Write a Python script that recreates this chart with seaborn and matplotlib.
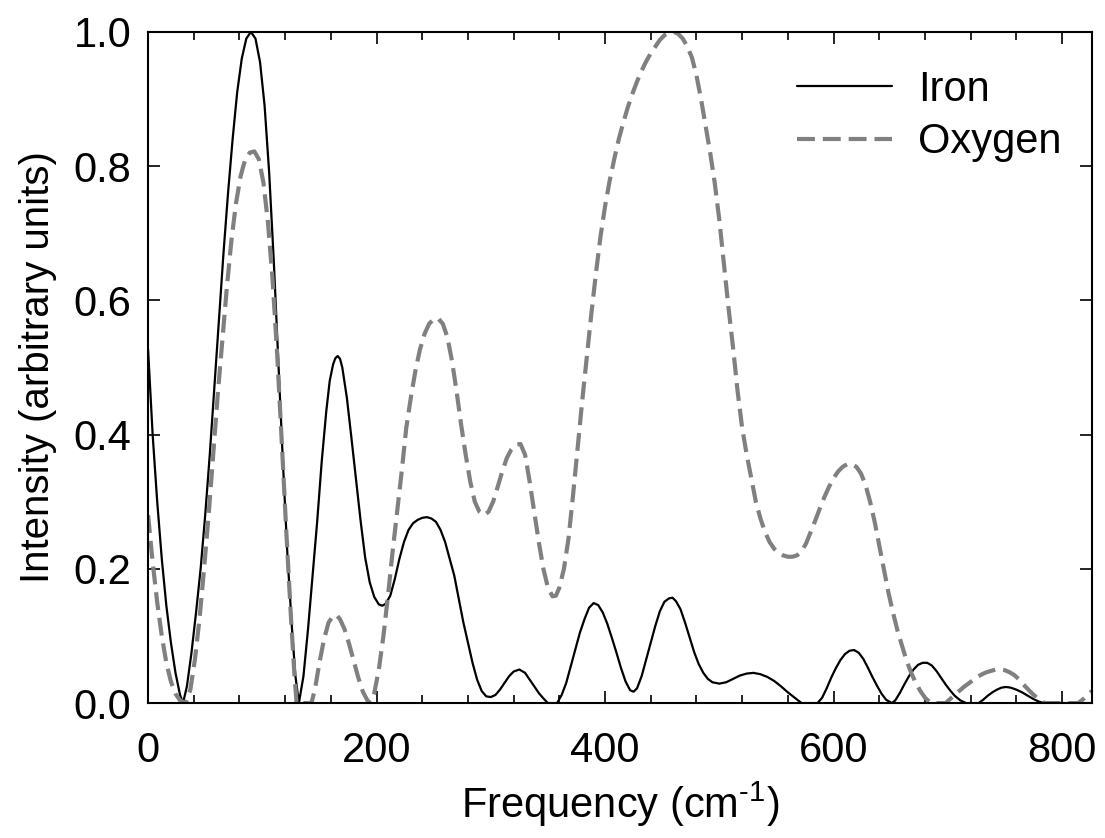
import matplotlib
matplotlib.use("Agg")
from matplotlib import pyplot as plt
from matplotlib.ticker import MultipleLocator
import seaborn as sns
import pandas as pd

# values
iron_x = [0, 4, 8, 12, 16, 20, 24, 28, 30.6, 34, 38, 42, 46, 50, 54, 58, 62, 66, 70, 74,
          78, 82, 86, 90, 94, 98, 102, 106, 110, 114, 118, 122, 126, 129, 132, 136, 140,
          144, 148, 152, 156, 159, 162, 164, 166, 168, 170, 174, 178, 182, 186, 190, 194,
          198, 202, 205, 208, 212, 216, 220, 224, 228, 232, 236, 240, 244, 248, 252, 256,
          260, 264, 268, 272, 276, 280, 284, 288, 292, 296, 300, 304, 308, 312, 316, 320,
          325, 330, 334, 338, 342, 346, 350, 358, 362, 366, 370, 374, 378, 382, 386, 390,
          394, 398, 402, 406, 410, 414, 418, 422, 425, 428, 432, 436, 440, 444, 448, 452,
          456, 459, 462, 466, 470, 474, 478, 482, 486, 490, 494, 500, 506, 512, 518, 524,
          530, 536, 542, 548, 554, 560, 566, 572, 586, 590, 594, 598, 602, 606, 610, 614,
          618, 622, 626, 630, 634, 638, 642, 646, 651, 654, 658, 662, 666, 670, 674, 678,
          682, 686, 690, 694, 698, 702, 706, 711, 716, 727, 731, 735, 739, 743, 747, 751,
          755, 760, 765, 770, 775, 780, 784, 826]
iron_y = [0.527, 0.40, 0.30, 0.215, 0.145, 0.09, 0.045, 0.012, 0.0, 0.025, 0.075, 0.135,
          0.20, 0.28, 0.37, 0.47, 0.57, 0.67, 0.76, 0.84, 0.91, 0.96, 0.99, 1.0, 0.99,
          0.955, 0.89, 0.79, 0.66, 0.51, 0.36, 0.22, 0.11, 0.04, 0.0, 0.04, 0.11, 0.19,
          0.27, 0.36, 0.435, 0.48, 0.505, 0.514, 0.517, 0.513, 0.5, 0.455, 0.395, 0.333,
          0.272, 0.217, 0.18, 0.158, 0.147, 0.145, 0.148, 0.16, 0.185, 0.215, 0.24, 0.258,
          0.268, 0.273, 0.276, 0.277, 0.275, 0.27, 0.258, 0.24, 0.215, 0.19, 0.155, 0.12,
          0.09, 0.06, 0.035, 0.018, 0.01, 0.009, 0.012, 0.02, 0.03, 0.04, 0.047, 0.05,
          0.045, 0.035, 0.025, 0.015, 0.007, 0.0, 0.0, 0.012, 0.03, 0.055, 0.08, 0.105,
          0.125, 0.142, 0.149, 0.146, 0.135, 0.118, 0.097, 0.075, 0.052, 0.032, 0.019,
          0.017, 0.022, 0.04, 0.065, 0.09, 0.115, 0.137, 0.151, 0.156, 0.157, 0.152, 0.14,
          0.12, 0.098, 0.076, 0.058, 0.045, 0.036, 0.031, 0.029, 0.031, 0.036, 0.041,
          0.044, 0.045, 0.043, 0.039, 0.033, 0.025, 0.016, 0.008, 0.0, 0.0, 0.008, 0.022,
          0.038, 0.052, 0.064, 0.073, 0.078, 0.079, 0.075, 0.066, 0.053, 0.039, 0.026,
          0.014, 0.005, 0.0, 0.004, 0.015, 0.028, 0.04, 0.05, 0.057, 0.06, 0.06, 0.056,
          0.048, 0.038, 0.028, 0.019, 0.011, 0.004, 0.0, 0.0, 0.005, 0.011, 0.016, 0.02,
          0.023, 0.024, 0.023, 0.02, 0.016, 0.011, 0.006, 0.002, 0.0, 0.0]

oxy_x = [0, 4, 8, 12, 16, 20, 24, 28, 33, 37, 41, 45, 49, 53, 57, 61, 65, 69, 73, 77, 81,
         85, 89, 93, 97, 101, 105, 109, 113, 117, 121, 125, 128, 130, 143, 146, 150, 154,
         158, 162, 165, 168, 172, 176, 180, 184, 188, 192, 194.5, 198, 202, 206, 210, 214,
         218, 222, 226, 230, 234, 238, 242, 246, 250, 254, 258, 262, 266, 270, 274, 278,
         282, 286, 290, 294, 298, 302, 306, 310, 314, 318, 322, 326, 330, 334, 338, 342,
         346, 350, 354, 357, 360, 364, 368, 372, 376, 380, 384, 388, 392, 396, 400, 404,
         408, 412, 416, 420, 424, 428, 432, 436, 440, 444, 448, 452, 456, 460, 464, 468,
         472, 476, 480, 484, 488, 492, 496, 500, 504, 508, 512, 516, 520, 524, 528, 532,
         536, 540, 544, 548, 552, 556, 560, 564, 568, 572, 576, 580, 584, 588, 592, 596,
         600, 604, 608, 612, 616, 620, 624, 628, 632, 636, 640, 644, 648, 652, 656, 660,
         664, 668, 672, 676, 680, 684, 686, 698, 702, 706, 710, 714, 718, 722, 726, 730,
         734, 738, 742, 746, 750, 754, 758, 762, 766, 770, 774, 778, 782, 785, 814, 818,
         822, 826]
oxy_y = [0.28, 0.21, 0.15, 0.10, 0.06, 0.032, 0.014, 0.004, 0.0, 0.02, 0.065, 0.125, 0.2,
         0.28, 0.37, 0.46, 0.54, 0.62, 0.69, 0.745, 0.785, 0.81, 0.82, 0.822, 0.81, 0.775,
         0.715, 0.63, 0.52, 0.39, 0.255, 0.13, 0.045, 0.0, 0.0, 0.02, 0.06, 0.095, 0.12,
         0.13, 0.131, 0.125, 0.11, 0.088, 0.063, 0.038, 0.017, 0.004, 0.0, 0.015, 0.05,
         0.1, 0.16, 0.225, 0.285, 0.345, 0.41, 0.455, 0.495, 0.527, 0.55, 0.565, 0.572,
         0.573, 0.565, 0.545, 0.51, 0.465, 0.415, 0.37, 0.33, 0.3, 0.285, 0.28, 0.285, 0.3,
         0.322, 0.345, 0.365, 0.378, 0.385, 0.386, 0.37, 0.33, 0.285, 0.24, 0.2, 0.172,
         0.159, 0.16, 0.172, 0.2, 0.245, 0.31, 0.38, 0.45, 0.515, 0.58, 0.64, 0.695, 0.74,
         0.778, 0.81, 0.84, 0.865, 0.888, 0.908, 0.926, 0.942, 0.956, 0.968, 0.978, 0.988,
         0.995, 0.999, 1.0, 0.997, 0.99, 0.978, 0.962, 0.935, 0.9, 0.86, 0.82, 0.775, 0.72,
         0.655, 0.59, 0.53, 0.465, 0.41, 0.37, 0.335, 0.3, 0.275, 0.255, 0.24, 0.23, 0.224,
         0.22, 0.218, 0.218, 0.22, 0.226, 0.238, 0.255, 0.272, 0.29, 0.307, 0.322, 0.335,
         0.345, 0.352, 0.356, 0.356, 0.352, 0.342, 0.325, 0.3, 0.27, 0.235, 0.2, 0.165,
         0.135, 0.108, 0.085, 0.063, 0.045, 0.03, 0.018, 0.008, 0.002, 0.0, 0.0, 0.006,
         0.012, 0.018, 0.024, 0.029, 0.034, 0.039, 0.043, 0.046, 0.048, 0.05, 0.05, 0.049,
         0.046, 0.042, 0.036, 0.028, 0.021, 0.014, 0.008, 0.003, 0.0, 0.0, 0.005, 0.011,
         0.018]

iron = pd.DataFrame({"freq": iron_x, "intensity": iron_y})
oxy = pd.DataFrame({"freq": oxy_x, "intensity": oxy_y})

sns.set_style("ticks")
plt.rcParams['font.family'] = ['Liberation Sans', 'DejaVu Sans']
plt.rcParams['mathtext.fontset'] = 'custom'
plt.rcParams['mathtext.rm'] = 'Liberation Sans'
plt.rcParams['mathtext.default'] = 'regular'
for k in ['text.color', 'axes.labelcolor', 'xtick.color', 'ytick.color', 'axes.edgecolor']:
    plt.rcParams[k] = 'black'

fig = plt.figure(figsize=(11.05, 8.38), dpi=100)
ax = fig.add_axes([0.134, 0.161, 0.854, 0.801])

sns.lineplot(data=iron, x="freq", y="intensity", ax=ax, color="black", lw=1.6,
             label="Iron", errorbar=None)
sns.lineplot(data=oxy, x="freq", y="intensity", ax=ax, color="#808080", lw=3,
             linestyle=(0, (4.3, 1.9)), label="Oxygen", errorbar=None)

ax.set_xlim(0, 826)
ax.set_ylim(0, 1.0)
ax.xaxis.set_major_locator(MultipleLocator(200))
ax.xaxis.set_minor_locator(MultipleLocator(40))
ax.yaxis.set_major_locator(MultipleLocator(0.2))
ax.tick_params(which="both", direction="in", top=True, right=True, width=1.2,
               labelsize=30)
ax.tick_params(axis="y", pad=12)
ax.tick_params(axis="x", pad=20)
ax.tick_params(which="major", length=8.5)
ax.tick_params(which="minor", length=5.5)
for s in ax.spines.values():
    s.set_linewidth(1.5)

ax.set_xlabel(r"Frequency (cm$^{\text{-1}}$)", fontsize=30, labelpad=6)
ax.set_ylabel("Intensity (arbitrary units)", fontsize=29, labelpad=12)

ax.legend(frameon=False, loc="upper right", bbox_to_anchor=(1.0, 0.988), fontsize=30,
          handlelength=2.28, handletextpad=0.62, labelspacing=0.3, borderaxespad=0.32)

plt.savefig("out.png", dpi=100)
